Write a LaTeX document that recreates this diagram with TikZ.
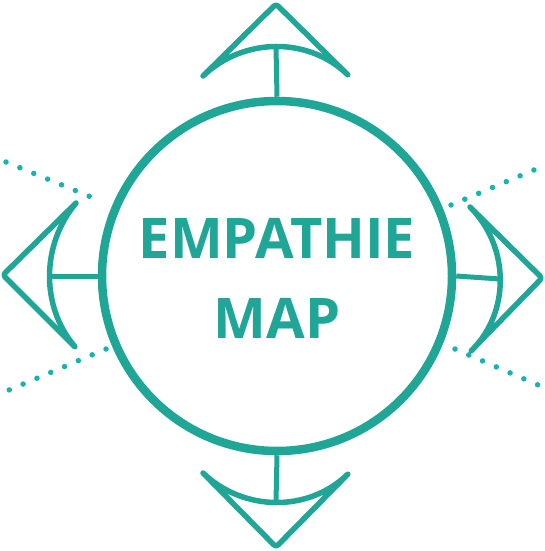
\documentclass[tikz,border=0pt]{standalone}
\usepackage{fontspec}
\setmainfont{Open Sans}
\definecolor{tealmain}{HTML}{1FA697}
\definecolor{tealdot}{HTML}{17B3B0}
\tikzset{
  outline/.style={draw=tealmain, line width=5.5pt, line join=round, line cap=round, rounded corners=3pt},
  stem/.style={draw=tealmain, line width=5pt},
  dotline/.style={draw=tealdot, line width=5.5pt, line cap=round, dash pattern=on 0pt off 15pt},
  ring/.style={circle, draw=tealmain, line width=8.5pt, fill=white, minimum size=350pt, inner sep=0pt},
  label/.style={text=tealmain, font=\fontsize{56}{80}\selectfont\bfseries, anchor=base, inner sep=0pt},
}
\begin{document}
\begin{tikzpicture}[x=1pt,y=-1pt]
\useasboundingbox (0,0) rectangle (545,551);
% dotted rays
\coordinate (d1a) at (6,162);   \coordinate (d1b) at (96,199);
\coordinate (d2a) at (2,393);   \coordinate (d2b) at (106,349);
\coordinate (d3a) at (451,205); \coordinate (d3b) at (541,167);
\coordinate (d4a) at (455,349); \coordinate (d4b) at (545,388);
\draw[dotline] (d1a) -- (d1b);
\draw[dotline] (d2b) -- (d2a);
\draw[dotline] (d3a) -- (d3b);
\draw[dotline] (d4a) -- (d4b);
% main circle
\node[ring] (c) at (277,276) {};
\node[label] (t1) at (277,258) {EMPATHIE};
\node[label] (t2) at (277,338) {MAP};
% top arrow
\coordinate (ta) at (276,4);
\coordinate (tl) at (203,76);
\coordinate (tr) at (349,76);
\coordinate (tm) at (276,47);
\draw[outline] (tl) -- (ta) -- (tr) .. controls (308,37) and (244,37) .. (tl);
\draw[stem] (tm) -- (c.north);
% bottom arrow
\coordinate (ba) at (276,547);
\coordinate (bl) at (203,473);
\coordinate (br) at (349,473);
\coordinate (bm) at (276,502);
\draw[outline] (bl) -- (ba) -- (br) .. controls (308,512) and (244,512) .. (bl);
\draw[stem] (bm) -- (c.south);
% left arrow
\coordinate (la) at (3,275);
\coordinate (lt) at (76,203);
\coordinate (lb) at (76,348);
\coordinate (lm) at (50,276);
\draw[outline] (lt) -- (la) -- (lb) .. controls (41,306) and (41,245) .. (lt);
\draw[stem] (lm) -- (c.west);
% right arrow
\coordinate (ra) at (542,278);
\coordinate (rt) at (470,207);
\coordinate (rb) at (470,352);
\coordinate (rm) at (500,279);
\draw[outline] (rt) -- (ra) -- (rb) .. controls (510,312) and (510,247) .. (rt);
\draw[stem] (rm) -- (c.east);
\end{tikzpicture}
\end{document}
